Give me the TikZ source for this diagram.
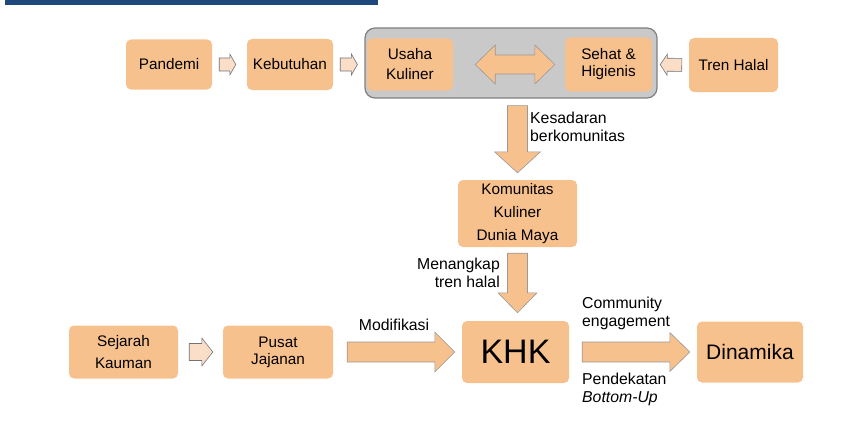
\documentclass[tikz,border=0pt]{standalone}
\usepackage{fontspec}
\setmainfont{Liberation Sans}
\usetikzlibrary{calc}
\definecolor{boxorange}{RGB}{247,193,142}
\definecolor{lightpeach}{RGB}{251,222,200}
\definecolor{groupgray}{RGB}{201,201,201}
\definecolor{headerblue}{RGB}{31,73,125}

\tikzset{
  box/.style={fill=boxorange, rounded corners=5pt, align=center, inner sep=0pt,
    font=\fontsize{15.3}{22}\selectfont},
  grouprect/.style={fill=groupgray, draw=black!50, line width=1.2pt, rounded corners=10pt},
  bigarrow/.style={fill=boxorange, draw=black!40, line width=0.6pt},
  smallarrow/.style={fill=lightpeach, draw=black!55, line width=0.6pt},
  lbl/.style={font=\fontsize{15.8}{18}\selectfont, inner sep=0pt}
}

% block arrow: [style]{from}{to}{gap from}{gap to}{shaft half}{head half}{head length}
\newcommand{\fatarrow}[8][bigarrow]{%
  \coordinate (ta) at ($(#2)!#4!(#3)$);
  \coordinate (tb) at ($(#3)!#5!(#2)$);
  \coordinate (hb) at ($(tb)!#8!(ta)$);
  \draw[#1] ($(ta)!#6!90:(tb)$) -- ($(hb)!#6!90:(tb)$) -- ($(hb)!#7!90:(tb)$) -- (tb)
    -- ($(hb)!#7!-90:(tb)$) -- ($(hb)!#6!-90:(tb)$) -- ($(ta)!#6!-90:(tb)$) -- cycle;
}
% double block arrow: {from}{to}{gap from}{gap to}{shaft half}{head half}{head length}
\newcommand{\dblarrow}[7]{%
  \coordinate (ta) at ($(#1)!#3!(#2)$);
  \coordinate (tb) at ($(#2)!#4!(#1)$);
  \coordinate (ha) at ($(ta)!#7!(tb)$);
  \coordinate (hb) at ($(tb)!#7!(ta)$);
  \draw[bigarrow] (ta) -- ($(ha)!#6!90:(tb)$) -- ($(ha)!#5!90:(tb)$) -- ($(hb)!#5!90:(tb)$)
    -- ($(hb)!#6!90:(tb)$) -- (tb) -- ($(hb)!#6!-90:(tb)$) -- ($(hb)!#5!-90:(tb)$)
    -- ($(ha)!#5!-90:(tb)$) -- ($(ha)!#6!-90:(tb)$) -- cycle;
}

\begin{document}
\begin{tikzpicture}[x=1pt,y=-1pt]
\useasboundingbox (0,0) rectangle (843,428);
\fill[headerblue] (5,0) rectangle (378,5);

% top row
\node[box, minimum width=86pt, minimum height=50pt] (pandemi) at (169,64.5) {Pandemi};
\node[box, minimum width=86pt, minimum height=51pt] (kebutuhan) at (290,64.5) {Kebutuhan};
\node[grouprect, minimum width=292pt, minimum height=70pt] (grp) at (511,63) {};
\node[box, minimum width=86pt, minimum height=52pt, font=\fontsize{15.3}{20}\selectfont] (usaha) at (410,64.5) {Usaha\\Kuliner};
\node[box, minimum width=87pt, minimum height=54pt, font=\fontsize{15.3}{17}\selectfont] (sehat) at (608.5,64.5) {Sehat \&\\Higienis};
\node[box, minimum width=89pt, minimum height=54pt] (tren) at (733.5,65) {Tren Halal};

% middle
\node[box, minimum width=119pt, minimum height=67pt, font=\fontsize{15.3}{23}\selectfont] (komunitas) at (517.5,213.5) {Komunitas\\Kuliner\\Dunia Maya};

% bottom row
\node[box, minimum width=109pt, minimum height=53pt] (sejarah) at (123.5,352) {Sejarah\\Kauman};
\node[box, minimum width=110pt, minimum height=53pt, font=\fontsize{15.3}{17}\selectfont] (pusat) at (278,352) {Pusat\\Jajanan};
\node[box, minimum width=107pt, minimum height=62pt, font=\fontsize{34}{40}\selectfont] (khk) at (515.5,352) {KHK};
\node[box, minimum width=106pt, minimum height=61pt, font=\fontsize{21}{25}\selectfont] (dinamika) at (750,352) {Dinamika};

% arrows
\fatarrow[smallarrow]{pandemi.east}{kebutuhan.west}{7pt}{11pt}{6.5pt}{10.5pt}{6pt}
\fatarrow[smallarrow]{kebutuhan.east}{kebutuhan.east -| grp.west}{7pt}{7pt}{6.5pt}{10.5pt}{6pt}
\fatarrow[smallarrow]{tren.west}{sehat.east}{7pt}{8pt}{6.5pt}{10.5pt}{7pt}
\dblarrow{usaha.east}{sehat.west}{22pt}{10pt}{9.5pt}{19.5pt}{20pt}
\fatarrow{komunitas.north |- grp.south}{komunitas.north}{7pt}{7pt}{10pt}{23pt}{21pt}
\fatarrow{komunitas.south}{komunitas.south |- khk.north}{6pt}{8pt}{10pt}{19.5pt}{20pt}
\fatarrow[smallarrow]{sejarah.east}{pusat.west}{11pt}{10pt}{8.5pt}{14pt}{11pt}
\fatarrow{pusat.east}{khk.west}{14pt}{7pt}{10pt}{20pt}{20pt}
\fatarrow{khk.east}{dinamika.west}{13pt}{7pt}{10pt}{19.5pt}{20pt}

% labels
\node[lbl, anchor=west, align=left] (kesadaran) at (530,127) {Kesadaran\\berkomunitas};
\node[lbl, anchor=east, align=right] (menangkap) at (500,273) {Menangkap\\tren halal};
\node[lbl] (modif) at (394,325) {Modifikasi};
\node[lbl, anchor=west, align=left] (community) at (582,313) {Community\\engagement};
\node[lbl, anchor=west, align=left] (pendekatan) at (582,389) {Pendekatan\\\textit{Bottom-Up}};
\end{tikzpicture}
\end{document}
